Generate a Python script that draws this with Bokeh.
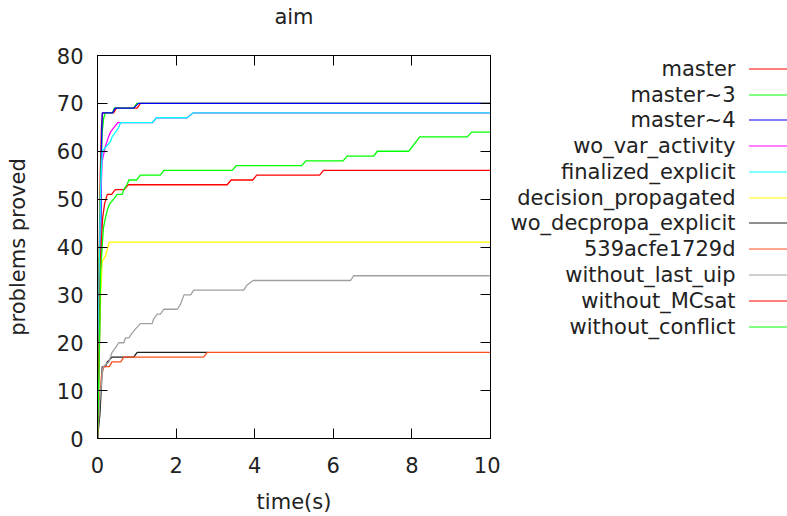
from bokeh.plotting import figure
from bokeh.models import Range1d, LinearAxis, FixedTicker
from bokeh.layouts import row
from bokeh.embed import file_html
from bokeh.resources import INLINE
from bokeh.core.properties import value

# ---------------- data ----------------
title_text = "aim"
series_names = ["master", "master~3", "master~4", "wo_var_activity", "finalized_explicit",
                "decision_propagated", "wo_decpropa_explicit", "539acfe1729d",
                "without_last_uip", "without_MCsat", "without_conflict"]
series_colors = ["#ff0000", "#00ff00", "#0000ff", "#ff00ff", "#00ffff", "#ffff00",
                 "#202020", "#ff5020", "#a0a0a0", "#ff0000", "#00ff00"]

master_t = [0, 0.03, 0.07, 0.1, 0.13, 0.41, 0.48, 1.01, 1.09, 10]
master_n = [0, 30, 55, 65, 68, 68, 69, 69, 70, 70]

master3_t = [0, 0.03, 0.08, 0.12, 0.16, 0.2, 0.38, 0.43, 0.92, 1.0, 10]
master3_n = [0, 30, 55, 64, 67, 68, 68, 69, 69, 70, 70]

master4_t = [0, 0.05, 0.08, 0.1, 0.12, 0.38, 0.45, 0.92, 1.04, 10]
master4_n = [0, 20, 35, 60, 68, 68, 69, 69, 70, 70]

wo_var_t = [0, 0.04, 0.08, 0.12, 0.2, 0.28, 0.33, 0.42, 0.52, 1.4, 1.5, 2.28, 2.43, 10]
wo_var_n = [0, 30, 50, 58, 61, 63, 64, 65, 66, 66, 67, 67, 68, 68]

finalized_t = [0, 0.04, 0.08, 0.12, 0.33, 0.37, 0.46, 0.54, 0.59, 1.4, 1.5, 2.28, 2.43, 10]
finalized_n = [0, 30, 52, 60, 62, 63, 64, 65, 66, 66, 67, 67, 68, 68]

decision_t = [0, 0.04, 0.08, 0.12, 0.2, 0.3, 10]
decision_n = [0, 15, 30, 37, 38, 41, 41]

wo_decpropa_t = [0, 0.06, 0.1, 0.12, 0.2, 0.25, 0.37, 0.92, 1.01, 2.79]
wo_decpropa_n = [0, 5, 11, 15, 15, 16, 17, 17, 18, 18]

c539_t = [0, 0.05, 0.1, 0.16, 0.3, 0.37, 0.59, 0.67, 2.7, 2.79, 10]
c539_n = [0, 8, 13, 15, 15, 16, 16, 17, 17, 18, 18]

last_uip_t = [0, 0.06, 0.14, 0.29, 0.37, 0.46, 0.54, 0.67, 0.71, 0.8, 0.88, 0.98, 1.09,
              1.39, 1.43, 1.52, 1.6, 1.69, 2.03, 2.11, 2.2, 2.37, 2.45, 3.72, 3.8, 3.96,
              6.44, 6.52, 10]
last_uip_n = [0, 8, 15, 16, 18, 19, 20, 20, 21, 21, 22, 23, 24,
              24, 25, 26, 26, 27, 27, 28, 30, 30, 31, 31, 32, 33,
              33, 34, 34]

mcsat_t = [0, 0.04, 0.08, 0.13, 0.18, 0.25, 0.36, 0.45, 0.68, 0.78, 3.3, 3.4, 3.95, 4.05,
           5.65, 5.75, 10]
mcsat_n = [0, 20, 38, 46, 49, 51, 51, 52, 52, 53, 53, 54, 54, 55, 55, 56, 56]

conflict_t = [0, 0.04, 0.08, 0.15, 0.2, 0.26, 0.31, 0.41, 0.5, 0.63, 0.67, 0.75, 0.8, 1.0,
              1.09, 1.6, 1.69, 3.43, 3.53, 5.2, 5.3, 6.25, 6.35, 7.03, 7.12, 7.92, 8.2,
              9.41, 9.52, 10]
conflict_n = [0, 15, 35, 44, 46, 48, 49, 50, 51, 51, 52, 53, 54, 54,
              55, 55, 56, 56, 57, 57, 58, 58, 59, 59, 60, 60, 63,
              63, 64, 64]

series_t = [master_t, master3_t, master4_t, wo_var_t, finalized_t, decision_t,
            wo_decpropa_t, c539_t, last_uip_t, mcsat_t, conflict_t]
series_n = [master_n, master3_n, master4_n, wo_var_n, finalized_n, decision_n,
            wo_decpropa_n, c539_n, last_uip_n, mcsat_n, conflict_n]

x_ticks = [0, 2, 4, 6, 8, 10]
y_ticks = [0, 10, 20, 30, 40, 50, 60, 70, 80]

# ---------------- styling ----------------
FONT = "DejaVu Sans"
FS = "21px"
TXT = "#222222"
H = 516
W_MAIN = 500
W_LEG = 287
TOP, BOTTOM, LEFT, RIGHT = 55, 438, 97, 490

p = figure(width=W_MAIN, height=H, output_backend="svg", toolbar_location=None,
           x_range=Range1d(0, 10), y_range=Range1d(0, 80),
           min_border_left=LEFT, min_border_right=W_MAIN - RIGHT, min_border_top=TOP,
           min_border_bottom=H - BOTTOM)
p.xgrid.visible = False
p.ygrid.visible = False
p.outline_line_color = "black"
p.outline_line_width = 1
p.background_fill_color = "white"
p.border_fill_color = "white"

for ax, ticks in ((p.xaxis[0], x_ticks), (p.yaxis[0], y_ticks)):
    ax.ticker = FixedTicker(ticks=ticks)
    ax.major_tick_in = 10
    ax.major_tick_out = 0
    ax.minor_tick_in = 0
    ax.minor_tick_out = 0
    ax.axis_line_color = "black"
    ax.major_tick_line_color = "black"
    ax.major_label_text_font = FONT
    ax.major_label_text_font_size = FS
    ax.major_label_text_color = TXT
    ax.axis_label_text_font = FONT
    ax.axis_label_text_font_size = FS
    ax.axis_label_text_font_style = "normal"
    ax.axis_label_text_color = TXT

p.xaxis.axis_label = "time(s)"
p.yaxis.axis_label = "problems proved"
p.xaxis.major_label_standoff = 18
p.xaxis.axis_label_standoff = 14
p.yaxis.major_label_standoff = 14
p.yaxis.axis_label_standoff = 24

# mirrored tick axes (top carries the chart title as its label)
top_ax = LinearAxis(ticker=FixedTicker(ticks=x_ticks), major_tick_in=10, major_tick_out=0,
                    minor_tick_in=0, minor_tick_out=0, axis_line_color="black",
                    major_tick_line_color="black", major_label_text_font_size="1px",
                    major_label_text_color=None, major_label_standoff=0,
                    axis_label=title_text, axis_label_standoff=27,
                    axis_label_text_font=FONT, axis_label_text_font_size=FS,
                    axis_label_text_font_style="normal", axis_label_text_color=TXT)
p.add_layout(top_ax, "above")
right_ax = LinearAxis(ticker=FixedTicker(ticks=y_ticks), major_tick_in=10, major_tick_out=0,
                      minor_tick_in=0, minor_tick_out=0, axis_line_color="black",
                      major_tick_line_color="black", major_label_text_font_size="1px",
                      major_label_text_color=None, major_label_standoff=0)
p.add_layout(right_ax, "right")

for t, n, c in zip(series_t, series_n, series_colors):
    p.line(t, n, line_color=c, line_width=1.3)

# ---------------- legend panel ----------------
leg = figure(width=W_LEG, height=H, output_backend="svg", toolbar_location=None,
             x_range=Range1d(0, W_LEG), y_range=Range1d(BOTTOM, TOP),
             x_axis_type=None, y_axis_type=None,
             min_border_left=0, min_border_right=0, min_border_top=TOP,
             min_border_bottom=H - BOTTOM, outline_line_color=None)
leg.grid.visible = False

k = len(series_names)
ys = [int(68.3 + 25.77 * i) + 0.5 for i in range(k)]
leg.text(x=[735 - W_MAIN] * k, y=ys, text=series_names, text_align="right",
         text_baseline="middle", text_font=value(FONT), text_font_size=FS, text_color=TXT)
leg.segment(x0=[748.5 - W_MAIN] * k, y0=ys, x1=[W_LEG] * k, y1=ys,
            line_color=series_colors, line_width=1)

layout = row(p, leg)
open("out.html", "w").write(file_html(layout, INLINE))
